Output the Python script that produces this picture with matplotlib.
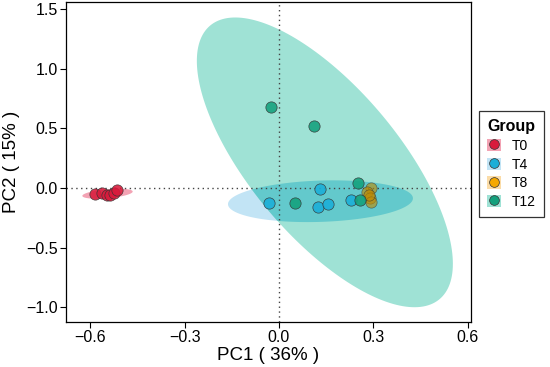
"""PCA score plot with group confidence ellipses (PC1 vs PC2)."""

import matplotlib

matplotlib.use("Agg")
import matplotlib.pyplot as plt
import numpy as np
from matplotlib.lines import Line2D
from matplotlib.patches import Patch, Polygon

plt.rcParams["font.family"] = ["Liberation Sans", "DejaVu Sans"]

GROUPS = ["T0", "T4", "T8", "T12"]

# sample scores
T0_PC1 = [-0.584, -0.562, -0.548, -0.537, -0.523, -0.516]
T0_PC2 = [-0.047, -0.044, -0.055, -0.061, -0.039, -0.019]
T4_PC1 = [-0.033, 0.130, 0.123, 0.157, 0.228]
T4_PC2 = [-0.126, -0.005, -0.159, -0.131, -0.097]
T8_PC1 = [0.294, 0.281, 0.290, 0.292, 0.286]
T8_PC2 = [0.003, -0.034, -0.080, -0.117, -0.060]
T12_PC1 = [-0.026, 0.112, 0.052, 0.250, 0.258]
T12_PC2 = [0.684, 0.525, -0.126, 0.042, -0.103]

# ellipse: centre x, centre y, half extent x, half extent y, correlation
ELLIPSES = {
    "T0": (-0.545, -0.047, 0.080, 0.042, 0.43),
    "T4": (0.132, -0.110, 0.294, 0.175, 0.14),
    "T8": (0.288, -0.057, 0.012, 0.065, 0.2),
    "T12": (0.146, 0.216, 0.407, 1.215, -0.70),
}

POINTS = {
    "T0": (T0_PC1, T0_PC2),
    "T4": (T4_PC1, T4_PC2),
    "T8": (T8_PC1, T8_PC2),
    "T12": (T12_PC1, T12_PC2),
}

DOT_COLORS = {"T0": "#d81b3c", "T4": "#1aaed8", "T8": "#f5a800", "T12": "#13a07c"}
FILL_COLORS = {"T0": "#f3a3b4", "T4": "#c2e4f5", "T8": "#fbdca8", "T12": "#9fe2d5"}


def ellipse_xy(cx, cy, sx, sy, r, n=200):
    cov = np.array([[sx * sx, r * sx * sy], [r * sx * sy, sy * sy]])
    L = np.linalg.cholesky(cov)
    t = np.linspace(0, 2 * np.pi, n)
    pts = L @ np.vstack([np.cos(t), np.sin(t)])
    return np.column_stack([pts[0] + cx, pts[1] + cy])


fig = plt.figure(figsize=(5.5, 3.67), dpi=100)
ax = fig.add_axes([0.12, 0.1226, 0.736, 0.872])

ell = {}
for g in ["T4", "T12", "T0", "T8"]:
    ell[g] = Polygon(ellipse_xy(*ELLIPSES[g]), closed=True,
                     facecolor=FILL_COLORS[g], edgecolor="none", zorder=1)
    ax.add_patch(ell[g])

# darker tone where the T4 and T12 ellipses overlap
overlap = Polygon(ellipse_xy(*ELLIPSES["T4"]), closed=True,
                  facecolor="#63c9cc", edgecolor="none", zorder=1.2)
ax.add_patch(overlap)
overlap.set_clip_path(ell["T12"])

ax.axhline(0, color="#444444", linestyle=(0, (1, 2.5)), linewidth=1.0, zorder=2)
ax.axvline(0, color="#444444", linestyle=(0, (1, 2.5)), linewidth=1.0, zorder=2)

for g in GROUPS:
    x, y = POINTS[g]
    face = "#c08a00" if g == "T8" else DOT_COLORS[g]
    alpha = 0.6 if g == "T8" else 0.88
    ax.scatter(x, y, s=66, color=face, alpha=alpha,
               edgecolors="#333333", linewidths=0.5, zorder=3)

ax.set_xlim(-0.677, 0.61)
ax.set_ylim(-1.123, 1.561)
ax.set_xticks([-0.6, -0.3, 0.0, 0.3, 0.6])
ax.set_yticks([-1.0, -0.5, 0.0, 0.5, 1.0, 1.5])
ax.set_xticklabels(["\u22120.6", "\u22120.3", "0.0", "0.3", "0.6"])
ax.set_yticklabels(["\u22121.0", "\u22120.5", "0.0", "0.5", "1.0", "1.5"])
ax.tick_params(direction="out", length=4, width=0.8, labelsize=11.5,
               colors="black", pad=2)
for sp in ax.spines.values():
    sp.set_linewidth(0.9)
ax.set_xlabel("PC1 ( 36% )", fontsize=13.5, labelpad=1)
ax.set_ylabel("PC2 ( 15% )", fontsize=13.5, labelpad=4)

handles = []
for g in GROUPS:
    sq = Patch(facecolor=FILL_COLORS[g], edgecolor="none")
    dot = Line2D([], [], marker="o", linestyle="none", markersize=7,
                 markerfacecolor=DOT_COLORS[g], markeredgecolor="#333333",
                 markeredgewidth=0.5)
    handles.append((sq, dot))

leg = fig.legend(handles, GROUPS, title="Group", loc="upper left",
                 bbox_to_anchor=(0.871, 0.6975), frameon=True, fancybox=False,
                 fontsize=10, title_fontproperties={"weight": "bold", "size": 11.5},
                 handlelength=1.0, handleheight=1.0, handletextpad=0.75,
                 labelspacing=0.33, borderpad=0.6, borderaxespad=0,
                 alignment="left")
leg.get_frame().set_edgecolor("black")
leg.get_frame().set_linewidth(0.9)

fig.savefig("out.png", dpi=100)
